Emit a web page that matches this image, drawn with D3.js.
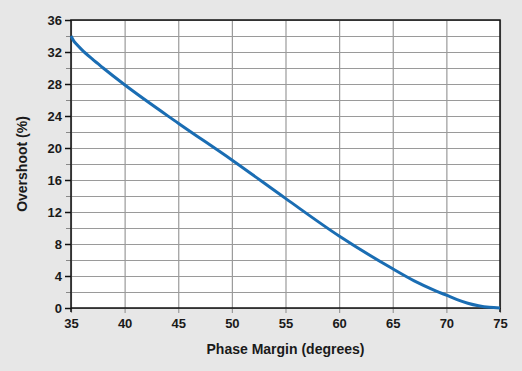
<!DOCTYPE html>
<html>
<head>
<meta charset="utf-8">
<script src="https://cdn.jsdelivr.net/npm/d3@7"></script>
<style>
  html, body { margin: 0; padding: 0; background: #e7e7e7; }
  svg { display: block; }
  text { font-family: "Liberation Sans", Arial, sans-serif; font-weight: bold; fill: #1a1a1a; }
</style>
</head>
<body>
<div id="chart"></div>
<script>
// phase margin (degrees) vs overshoot (%)
const phaseMargin = [35, 35.25, 35.5, 36, 37, 38, 40, 45, 50, 55, 60, 65, 67, 69, 70, 71, 72, 73, 74, 75];
const overshoot = [34.0, 33.4, 33.0, 32.3, 31.1, 30.0, 27.9, 23.1, 18.5, 13.7, 9.0, 4.9, 3.4, 2.15, 1.6, 1.05, 0.6, 0.28, 0.08, 0];
const xTicks = [35, 40, 45, 50, 55, 60, 65, 70, 75];
const yTicks = [0, 4, 8, 12, 16, 20, 24, 28, 32, 36];
const yMinor = [2, 6, 10, 14, 18, 22, 26, 30, 34];

const width = 522;
const height = 371;
const margin = { top: 20, right: 22, bottom: 63, left: 71 };
const w = width - margin.left - margin.right;
const h = height - margin.top - margin.bottom;

const svg = d3.select("#chart")
  .append("svg")
  .attr("width", width)
  .attr("height", height);

const g = svg.append("g")
  .attr("transform", `translate(${margin.left},${margin.top})`);

const x = d3.scaleLinear().domain([35, 75]).range([0, w]);
const y = d3.scaleLinear().domain([0, 36]).range([h, 0]);

g.append("rect")
  .attr("width", w)
  .attr("height", h)
  .attr("fill", "#fff");

// horizontal grid every 2
g.append("g")
  .call(d3.axisLeft(y).tickValues(yTicks.concat(yMinor)).tickSize(-w).tickFormat(""))
  .call(s => s.select(".domain").remove())
  .call(s => s.selectAll("line").attr("stroke", "#9a9a9a").attr("stroke-width", 1.2));

// vertical grid, poking a little below the frame
g.append("g")
  .attr("transform", `translate(0,${h + 5})`)
  .call(d3.axisBottom(x).tickValues(xTicks).tickSize(h + 5).tickFormat(""))
  .call(s => s.select(".domain").remove())
  .call(s => s.selectAll("line").attr("transform", `translate(0,${-(h + 5)})`)
    .attr("stroke", "#9a9a9a").attr("stroke-width", 1.2));

// minor y ticks
g.append("g")
  .call(d3.axisLeft(y).tickValues(yMinor).tickSize(5).tickFormat(""))
  .call(s => s.select(".domain").remove())
  .call(s => s.selectAll("line").attr("stroke", "#888"));

// y axis labels + major ticks
g.append("g")
  .call(d3.axisLeft(y).tickValues(yTicks).tickSize(6).tickPadding(3))
  .call(s => s.select(".domain").remove())
  .call(s => s.selectAll("line").attr("stroke", "#111").attr("stroke-width", 1.5))
  .call(s => s.selectAll("text").style("font-size", "13px"));

// x axis labels
g.append("g")
  .attr("transform", `translate(0,${h})`)
  .call(d3.axisBottom(x).tickValues(xTicks).tickSize(0).tickPadding(11))
  .call(s => s.select(".domain").remove())
  .call(s => s.selectAll("text").style("font-size", "13px"));

// frame
g.append("rect")
  .attr("width", w)
  .attr("height", h)
  .attr("fill", "none")
  .attr("stroke", "#111")
  .attr("stroke-width", 1.5);

g.append("line")
  .attr("x1", 0).attr("x2", 0)
  .attr("y1", h).attr("y2", h + 4)
  .attr("stroke", "#111").attr("stroke-width", 1.5);
g.append("line")
  .attr("x1", w).attr("x2", w)
  .attr("y1", h).attr("y2", h + 4)
  .attr("stroke", "#111").attr("stroke-width", 1.5);

const line = d3.line()
  .x((d, i) => x(phaseMargin[i]))
  .y(d => y(d))
  .curve(d3.curveMonotoneX);

g.append("path")
  .datum(overshoot)
  .attr("d", line)
  .attr("fill", "none")
  .attr("stroke", "#1a6db3")
  .attr("stroke-width", 3)
  .attr("stroke-linejoin", "round");

svg.append("text")
  .attr("x", margin.left + w / 2)
  .attr("y", 354)
  .attr("text-anchor", "middle")
  .style("font-size", "14px")
  .text("Phase Margin (degrees)");

svg.append("text")
  .attr("transform", `translate(27,${margin.top + h / 2}) rotate(-90)`)
  .attr("text-anchor", "middle")
  .style("font-size", "14px")
  .text("Overshoot (%)");
</script>
</body>
</html>
